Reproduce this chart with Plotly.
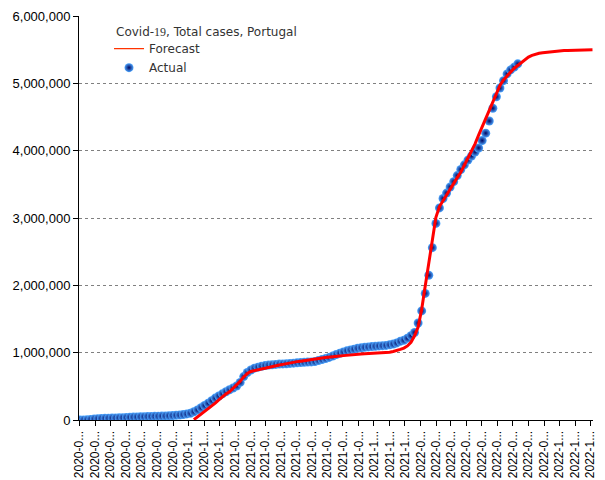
import pandas as pd
import plotly.graph_objects as go

# Weekly actual totals (cases), starting 2020-03-02
actual_start = "2020-03-02"
actual_values = [
    0, 1000, 3000, 9000, 16000, 20000, 23000, 25000, 27000, 29000,
    30000, 32000, 35000, 37000, 40000, 43000, 45000, 48000, 50000, 52000,
    53000, 55000, 56000, 58000, 60000, 63000, 66000, 70000, 75000, 81000,
    90000, 101000, 122000, 150000, 182000, 215000, 249000, 287000, 325000, 357000,
    389000, 420000, 449000, 475000, 505000, 558000, 645000, 705000, 742000, 770000,
    785000, 798000, 808000, 816000, 821000, 826000, 830000, 833000, 836000, 840000,
    844000, 850000, 853000, 856000, 860000, 863000, 867000, 884000, 898000, 912000,
    930000, 950000, 972000, 992000, 1010000, 1027000, 1040000, 1052000, 1065000, 1073000,
    1080000, 1086000, 1091000, 1095000, 1100000, 1104000, 1108000, 1118000, 1128000, 1145000,
    1168000, 1185000, 1215000, 1253000, 1300000, 1440000, 1620000, 1880000, 2150000, 2560000,
    2920000, 3150000, 3290000, 3370000, 3460000, 3540000, 3630000, 3720000, 3790000, 3860000,
    3920000, 3980000, 4040000, 4150000, 4260000, 4440000, 4630000, 4800000, 4930000, 5040000,
    5140000, 5200000, 5240000, 5290000,
]

# Weekly forecast totals, starting 2020-10-12
forecast_start = "2020-10-12"
forecast_values = [
    5000, 45000, 80000, 125000, 160000, 205000, 250000, 300000, 345000, 385000,
    420000, 470000, 515000, 575000, 640000, 690000, 720000, 735000, 748000, 758000,
    768000, 782000, 795000, 806000, 817000, 826000, 838000, 848000, 858000, 867000,
    874000, 880000, 886000, 892000, 900000, 910000, 920000, 928000, 936000, 942000,
    946000, 950000, 956000, 963000, 970000, 974000, 978000, 981000, 985000, 988000,
    991000, 994000, 996000, 998000, 1000000, 1006000, 1018000, 1030000, 1048000, 1068000,
    1100000, 1155000, 1250000, 1380000, 1640000, 1990000, 2320000, 2720000, 3010000, 3170000,
    3260000, 3330000, 3420000, 3510000, 3600000, 3680000, 3780000, 3880000, 3985000, 4100000,
    4230000, 4350000, 4480000, 4610000, 4730000, 4850000, 4970000, 5050000, 5110000, 5170000,
    5225000, 5265000, 5305000, 5350000, 5390000, 5415000, 5435000, 5447000, 5455000, 5462000,
    5468000, 5473000, 5478000, 5482000, 5486000, 5489000, 5492000, 5494000, 5496000, 5497000,
    5498000, 5499000, 5500000,
]

# Monthly tick positions and their (truncated) labels
tick_dates = [d.strftime("%Y-%m-%d") for d in pd.date_range("2020-03-01", "2022-12-01", freq="MS")]
tick_labels = [d[:6] + "..." for d in tick_dates]

y_ticks = [0, 1000000, 2000000, 3000000, 4000000, 5000000, 6000000]

chart_title = 'Covid-<span style="font-family:Liberation Serif">19</span>, Total cases, Portugal'

actual_dates = pd.date_range(actual_start, periods=len(actual_values), freq="7D")
forecast_dates = pd.date_range(forecast_start, periods=len(forecast_values), freq="7D")

fig = go.Figure()
fig.add_trace(go.Scatter(
    x=actual_dates, y=actual_values, mode="markers", name="Actual",
    legendrank=2,
    marker=dict(size=9, color="#4da6ff", line=dict(width=0),
                gradient=dict(type="radial", color="#000560")),
))
fig.add_trace(go.Scatter(
    x=forecast_dates, y=forecast_values, mode="lines", name="Forecast",
    showlegend=False,
    line=dict(color="#ff0000", width=3),
))
# legend-only entry with a thin line sample, as in the reference
fig.add_trace(go.Scatter(
    x=[None], y=[None], mode="lines", name="Forecast",
    legendrank=1, hoverinfo="skip",
    line=dict(color="#ff3300", width=1.3),
))

# The page body adds an 8px offset, so the figure is sized to fit the window.
fig.update_layout(
    width=597, height=472,
    margin=dict(l=71, r=12, t=8, b=60, autoexpand=False),
    paper_bgcolor="white", plot_bgcolor="white",
    font=dict(family="Liberation Sans", size=13, color="black"),
    separators=".,",
    showlegend=True,
    legend=dict(
        x=0.0584, y=0.955, xanchor="left", yanchor="top",
        bgcolor="rgba(0,0,0,0)",
        font=dict(family="DejaVu Sans", size=12, color="#333333"),
        tracegroupgap=0,
    ),
    annotations=[dict(
        text=chart_title, xref="paper", yref="paper",
        x=0.068, y=0.96, xanchor="left", yanchor="middle",
        showarrow=False, font=dict(family="DejaVu Sans", size=12, color="#333333"),
    )],
)
fig.update_xaxes(
    type="date", automargin=False,
    range=["2020-02-29", "2022-12-06"],
    tickmode="array", tickvals=tick_dates, ticktext=tick_labels,
    tickangle=-90,
    ticks="outside", ticklen=5, tickcolor="black",
    showline=True, linecolor="black", linewidth=1,
    showgrid=False, zeroline=False,
    tickfont=dict(family="Liberation Sans", size=12, color="black"),
)
fig.update_yaxes(
    automargin=False,
    range=[0, 6000000],
    tickmode="array", tickvals=y_ticks,
    tickformat=",d",
    ticks="outside", ticklen=5, tickcolor="black",
    showline=True, linecolor="black", linewidth=1,
    showgrid=True, gridcolor="#808080", gridwidth=1, griddash="dot",
    zeroline=False,
    tickfont=dict(family="Liberation Sans", size=13, color="black"),
)

fig.write_html("out.html")
